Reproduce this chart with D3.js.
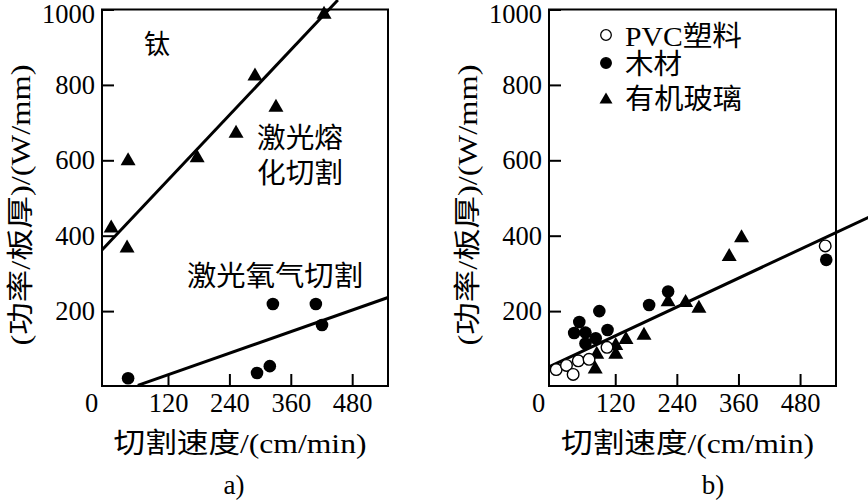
<!DOCTYPE html>
<html><head><meta charset="utf-8">
<script src="https://cdn.jsdelivr.net/npm/d3@7"></script>
<style>
html,body{margin:0;padding:0;background:#fff;}
svg{display:block;}
text{fill:#000;font-family:"Liberation Serif","Times New Roman","Noto Sans CJK SC",serif !important;}
</style></head>
<body>
<svg id="chart" width="868" height="502"></svg>
<script>
// ---------- data ----------
const xTicks = [0, 120, 240, 360, 480];
const yTicks = [200, 400, 600, 800, 1000];
const xDomain = [-9, 550];
const yDomain = [0, 1000];

// panel a) titanium
const meltX = [9, 40, 42, 177, 253, 290, 331, 425];
const meltY = [426, 373, 604, 612, 677, 829, 746, 993];
const oxyX = [42, 294, 319, 325, 409, 421];
const oxyY = [22, 36, 54, 219, 219, 163];
const meltFitX = [-9, 452];
const meltFitY = [362, 1025];
const oxyFitX = [61, 550];
const oxyFitY = [3, 236];
const labelA = ["钛", "激光熔", "化切割", "激光氧气切割"];

// panel b)
const seriesNames = ["PVC塑料", "木材", "有机玻璃"];
const pvcX = [5, 25, 38, 48, 69, 104, 529];
const pvcY = [45, 56, 32, 68, 72, 104, 373];
const woodX = [40, 50, 62, 62, 82, 89, 105, 186, 223, 531];
const woodY = [142, 171, 143, 114, 128, 200, 150, 216, 252, 336];
const pmmaX = [81, 84, 121, 121, 141, 176, 223, 257, 283, 342, 366];
const pmmaY = [52, 91, 91, 114, 130, 141, 230, 228, 213, 350, 400];
const fitBX = [-9, 620];
const fitBY = [52, 453];

const yTitle = "(功率/板厚)/(W/mm)";
const xTitle = "切割速度/(cm/min)";
const panelTags = ["a)", "b)"];

// ---------- drawing ----------
const svg = d3.select("#chart");
const FONT = "Liberation Serif, Times New Roman, Noto Sans CJK SC, serif";

function triPath(w, h) {
  return `M0,${-h/2}L${w/2},${h/2}L${-w/2},${h/2}Z`;
}

function panel(left, right) {
  const x = d3.scaleLinear().domain(xDomain).range([left, right]);
  const y = d3.scaleLinear().domain(yDomain).range([386.5, 9.5]);
  const g = svg.append("g");

  // y axis
  const ya = g.append("g").attr("transform", `translate(${left},0)`)
    .call(d3.axisLeft(y).tickValues(yTicks).tickFormat(d3.format("d")).tickSize(-12).tickPadding(7));
  ya.select(".domain").remove();
  ya.selectAll(".tick line").attr("stroke", "#000").attr("stroke-width", 2);
  ya.selectAll(".tick text").attr("font-family", FONT).attr("font-size", 26.5)
    .attr("dy", d => d === 1000 ? "0.5em" : "0.32em");

  // x axis
  const xa = g.append("g").attr("transform", `translate(0,386)`)
    .call(d3.axisBottom(x).tickValues(xTicks).tickFormat(d3.format("d")).tickSize(-12).tickPadding(7.5));
  xa.select(".domain").remove();
  xa.selectAll(".tick line").attr("stroke", "#000").attr("stroke-width", 2)
    .filter(d => d === 0).remove();
  xa.selectAll(".tick text").attr("font-family", FONT).attr("font-size", 26.5)
    .attr("dx", d => d === 0 ? -(x(0) - left + 11) : 0);

  // frame
  g.append("rect").attr("x", left).attr("y", 9.5)
    .attr("width", right - left).attr("height", 386 - 9.5)
    .attr("fill", "none").attr("stroke", "#000").attr("stroke-width", 2);

  // titles
  g.append("text")
    .attr("transform", `translate(${left - 72},205) rotate(-90)`)
    .attr("text-anchor", "middle").attr("font-family", FONT).attr("font-size", 27)
    .attr("textLength", 281).attr("lengthAdjust", "spacingAndGlyphs")
    .text(yTitle);
  const cx = (left + right) / 2 - 5;
  g.append("text").attr("x", cx).attr("y", 453)
    .attr("text-anchor", "middle").attr("font-family", FONT).attr("font-size", 28)
    .attr("textLength", 253).attr("lengthAdjust", "spacingAndGlyphs")
    .text(xTitle);
  return {g, x, y};
}

// panel a
const A = panel(102, 388);
const line = (xs, ys, p) => d3.line().x(d => p.x(d[0])).y(d => p.y(d[1]))(xs.map((v, i) => [v, ys[i]]));

A.g.append("path").attr("d", line(meltFitX, meltFitY, A))
  .attr("fill", "none").attr("stroke", "#000").attr("stroke-width", 3);
A.g.append("path").attr("d", line(oxyFitX, oxyFitY, A))
  .attr("fill", "none").attr("stroke", "#000").attr("stroke-width", 3);

A.g.selectAll(".melt").data(meltX.map((v, i) => [v, meltY[i]])).join("path")
  .attr("d", triPath(15, 13))
  .attr("transform", d => `translate(${A.x(d[0])},${A.y(d[1])})`).attr("fill", "#000");
A.g.selectAll(".oxy").data(oxyX.map((v, i) => [v, oxyY[i]])).join("circle")
  .attr("cx", d => A.x(d[0])).attr("cy", d => A.y(d[1])).attr("r", 6.3).attr("fill", "#000");

const annot = [
  {t: labelA[0], x: 157, y: 54, fs: 27, w: 26},
  {t: labelA[1], x: 300, y: 148, fs: 28, w: 86},
  {t: labelA[2], x: 300, y: 183, fs: 28, w: 86},
  {t: labelA[3], x: 275, y: 286, fs: 28, w: 176}
];
A.g.selectAll(".ann").data(annot).join("text")
  .attr("x", d => d.x).attr("y", d => d.y).attr("text-anchor", "middle")
  .attr("font-family", FONT).attr("font-size", d => d.fs)
  .attr("textLength", d => d.w).attr("lengthAdjust", "spacingAndGlyphs")
  .text(d => d.t);

svg.append("text").attr("x", 234).attr("y", 494).attr("text-anchor", "middle")
  .attr("font-family", FONT).attr("font-size", 27).text(panelTags[0]);

// panel b
const B = panel(549, 836);
B.g.append("path").attr("d", line(fitBX, fitBY, B))
  .attr("fill", "none").attr("stroke", "#000").attr("stroke-width", 3);

B.g.selectAll(".pmma").data(pmmaX.map((v, i) => [v, pmmaY[i]])).join("path")
  .attr("d", triPath(15, 13))
  .attr("transform", d => `translate(${B.x(d[0])},${B.y(d[1])})`).attr("fill", "#000");
B.g.selectAll(".wood").data(woodX.map((v, i) => [v, woodY[i]])).join("circle")
  .attr("cx", d => B.x(d[0])).attr("cy", d => B.y(d[1])).attr("r", 6.3).attr("fill", "#000");
B.g.selectAll(".pvc").data(pvcX.map((v, i) => [v, pvcY[i]])).join("circle")
  .attr("cx", d => B.x(d[0])).attr("cy", d => B.y(d[1])).attr("r", 5.8)
  .attr("fill", "#fff").attr("stroke", "#000").attr("stroke-width", 1.4);

// legend
const leg = [
  {name: seriesNames[0], y: 35, w: 117, kind: "open"},
  {name: seriesNames[1], y: 63, w: 57, kind: "fill"},
  {name: seriesNames[2], y: 98, w: 117, kind: "tri"}
];
leg.forEach(l => {
  if (l.kind === "tri") {
    B.g.append("path").attr("d", triPath(13, 11)).attr("transform", `translate(606,${l.y})`).attr("fill", "#000");
  } else {
    B.g.append("circle").attr("cx", 606).attr("cy", l.y).attr("r", 5.3)
      .attr("fill", l.kind === "open" ? "#fff" : "#000").attr("stroke", "#000").attr("stroke-width", 1.3);
  }
  B.g.append("text").attr("x", 625).attr("y", l.y + 10.5)
    .attr("font-family", FONT).attr("font-size", 28)
    .attr("textLength", l.w).attr("lengthAdjust", "spacingAndGlyphs").text(l.name);
});

svg.append("text").attr("x", 713).attr("y", 494).attr("text-anchor", "middle")
  .attr("font-family", FONT).attr("font-size", 27).text(panelTags[1]);
</script>
</body></html>
